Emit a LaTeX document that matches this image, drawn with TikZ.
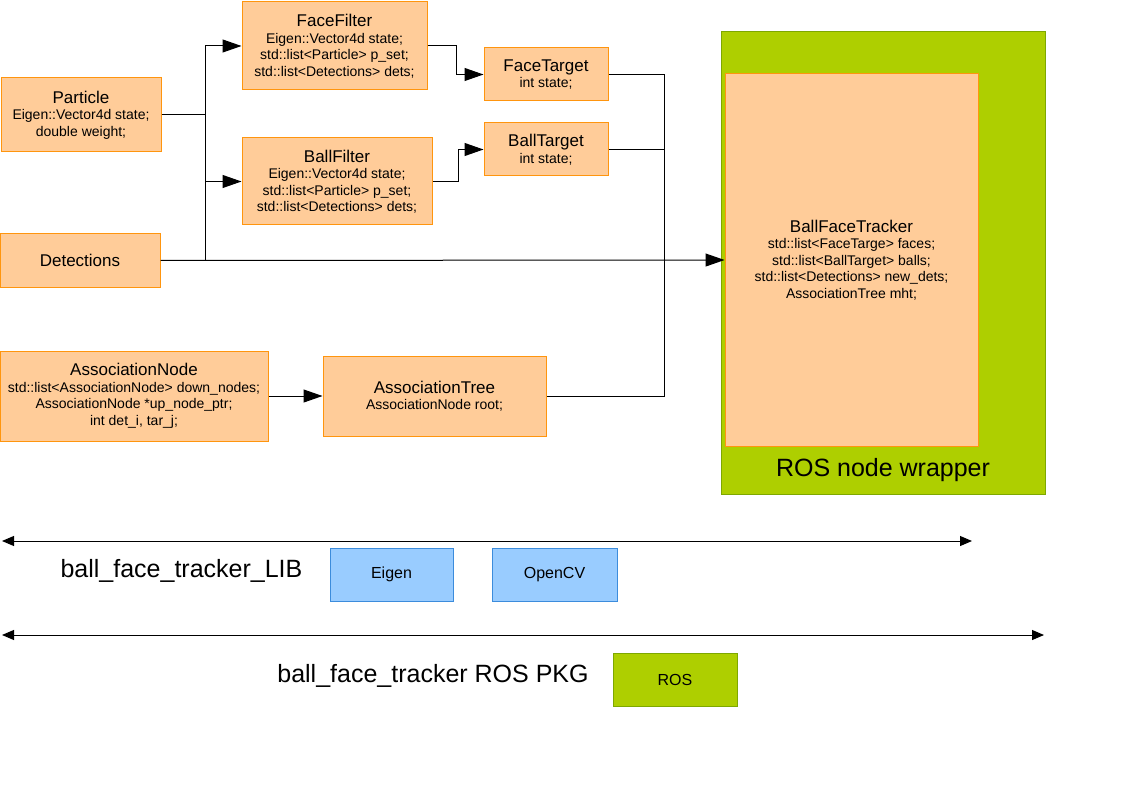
\documentclass[tikz,border=0pt]{standalone}
\usepackage{fontspec}
\setmainfont{Liberation Sans}
\usetikzlibrary{arrows.meta}
\definecolor{ofill}{HTML}{FFCC99}
\definecolor{odraw}{HTML}{FF950E}
\definecolor{gfill}{HTML}{AECF00}
\definecolor{gdraw}{HTML}{7EA800}
\definecolor{bfill}{HTML}{99CCFF}
\definecolor{bdraw}{HTML}{3C8CDC}
\newcommand{\ttl}[1]{{\fontsize{17}{19}\selectfont #1}}
\tikzset{
  obox/.style={draw=odraw, fill=ofill, line width=1pt, inner sep=0pt, align=center,
    font=\fontsize{14}{16.5}\selectfont},
  bbox/.style={draw=bdraw, fill=bfill, line width=1pt, inner sep=0pt, align=center,
    font=\fontsize{16}{18}\selectfont},
  gbox/.style={draw=gdraw, fill=gfill, line width=1pt, inner sep=0pt, align=center,
    font=\fontsize{16}{18}\selectfont},
  arr/.style={line width=1pt, -{Triangle[length=19pt,width=13pt]}},
  conn/.style={line width=1pt},
  darr/.style={line width=1pt, {Triangle[length=12pt,width=10pt]}-{Triangle[length=12pt,width=10pt]}},
  big/.style={font=\fontsize{25}{28}\selectfont, inner sep=0pt}
}
\begin{document}
\begin{tikzpicture}[x=1pt,y=-1pt]
\useasboundingbox (0,0) rectangle (1123,794);
% container
\node[gbox, minimum width=324pt, minimum height=462pt] (wrap) at (883,263) {};
\node[big] (wraplbl) at (883,470) {ROS node wrapper};
% boxes
\node[obox, minimum width=185pt, minimum height=88pt] (ff) at (334.5,46)
  {\ttl{FaceFilter}\\Eigen::Vector4d state;\\std::list<Particle> p\_set;\\std::list<Detections> dets;};
\node[obox, minimum width=160pt, minimum height=74pt] (par) at (81,115)
  {\ttl{Particle}\\Eigen::Vector4d state;\\double weight;};
\node[obox, minimum width=190pt, minimum height=87pt] (bf) at (337,181.5)
  {\ttl{BallFilter}\\Eigen::Vector4d state;\\std::list<Particle> p\_set;\\std::list<Detections> dets;};
\node[obox, minimum width=160pt, minimum height=53pt] (det) at (80,260.5)
  {\ttl{Detections}};
\node[obox, minimum width=124pt, minimum height=53pt] (ft) at (546,74.5)
  {\ttl{FaceTarget}\\int state;};
\node[obox, minimum width=124pt, minimum height=53pt] (bt) at (546,149.5)
  {\ttl{BallTarget}\\int state;};
\node[obox, minimum width=268pt, minimum height=90pt] (an) at (134,396)
  {\ttl{AssociationNode}\\std::list<AssociationNode> down\_nodes;\\AssociationNode *up\_node\_ptr;\\int det\_i, tar\_j;};
\node[obox, minimum width=223pt, minimum height=80pt] (at) at (434.5,396)
  {\ttl{AssociationTree}\\AssociationNode root;};
\node[obox, minimum width=253pt, minimum height=372pt] (bft) at (851.5,260)
  {\ttl{BallFaceTracker}\\std::list<FaceTarge> faces;\\std::list<BallTarget> balls;\\std::list<Detections> new\_dets;\\AssociationTree mht;};
% library boxes
\node[bbox, minimum width=123pt, minimum height=53pt] (eig) at (391.5,574.5) {Eigen};
\node[bbox, minimum width=125pt, minimum height=53pt] (ocv) at (554.5,574.5) {OpenCV};
\node[gbox, minimum width=124pt, minimum height=53pt] (ros) at (675,679.5) {ROS};
\node[big] (liblbl) at (181.5,571) {ball\_face\_tracker\_LIB};
\node[big] (pkglbl) at (433,676) {ball\_face\_tracker ROS PKG};
% helper coordinates
\coordinate (bus) at (205,115);
\coordinate (col) at (664,260);
\coordinate (l1a) at (2,541);
\coordinate (l1b) at (972,541);
\coordinate (l2a) at (2,635);
\coordinate (l2b) at (1044,635);
% connectors
\draw[arr] (par.east) -- (bus) |- (ff.west);
\draw[arr] (bus) |- (bf.west);
\draw[conn] (bus) -- (bus |- det.east);
\draw[arr] (det.east) -- (bft.west);
\draw[arr] (ff.east) -- ++(29,0) |- (ft.west);
\draw[arr] (bf.east) -- ++(26,0) |- (bt.west);
\draw[conn] (ft.east) -- (ft.east -| col) -- (at.east -| col) -- (at.east);
\draw[conn] (bt.east) -- (bt.east -| col);
\draw[arr] (an.east) -- (at.west);
\draw[darr] (l1a) -- (l1b);
\draw[darr] (l2a) -- (l2b);
\end{tikzpicture}
\end{document}
